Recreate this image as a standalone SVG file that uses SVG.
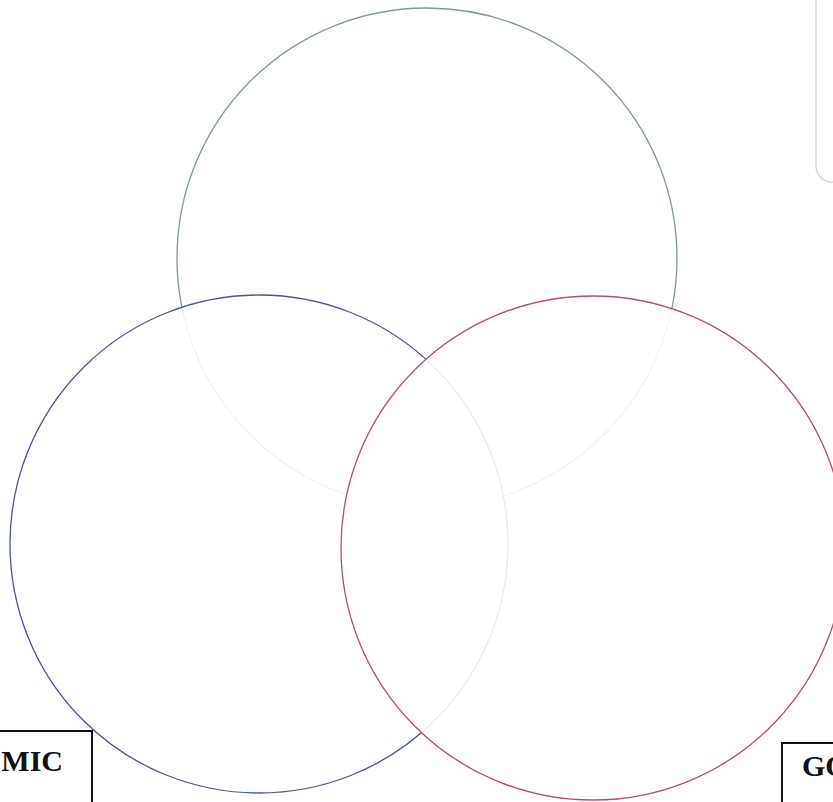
<svg xmlns="http://www.w3.org/2000/svg" width="833" height="802" viewBox="0 0 833 802">
<style>
.c{fill:#ffffff;fill-opacity:0.88;stroke-width:1.3}
.box{fill:#ffffff;stroke:#111111;stroke-width:2}
.lbl{font-family:"Liberation Serif",serif;font-weight:bold;font-size:30px;fill:#111111}
</style>
<rect width="833" height="802" fill="#ffffff"/>
<g id="panel"><rect x="816" y="-20" width="60" height="202" rx="16" fill="none" stroke="#c8c8c8" stroke-width="1.2"/></g>
<g id="circle-top"><circle class="c" cx="427" cy="258" r="250" stroke="#7f9c8f"/></g>
<g id="circle-left"><circle class="c" cx="259" cy="544" r="249" stroke="#4b55a0"/></g>
<g id="circle-right"><circle class="c" cx="593" cy="548" r="252" stroke="#b34f68"/></g>
<g id="box-mic"><rect class="box" x="-10" y="731" width="102" height="90"/><text class="lbl" x="63" y="771" text-anchor="end">MIC</text></g>
<g id="box-go"><rect class="box" x="782" y="743" width="80" height="80"/><text class="lbl" x="802" y="776">GO</text></g>
</svg>
